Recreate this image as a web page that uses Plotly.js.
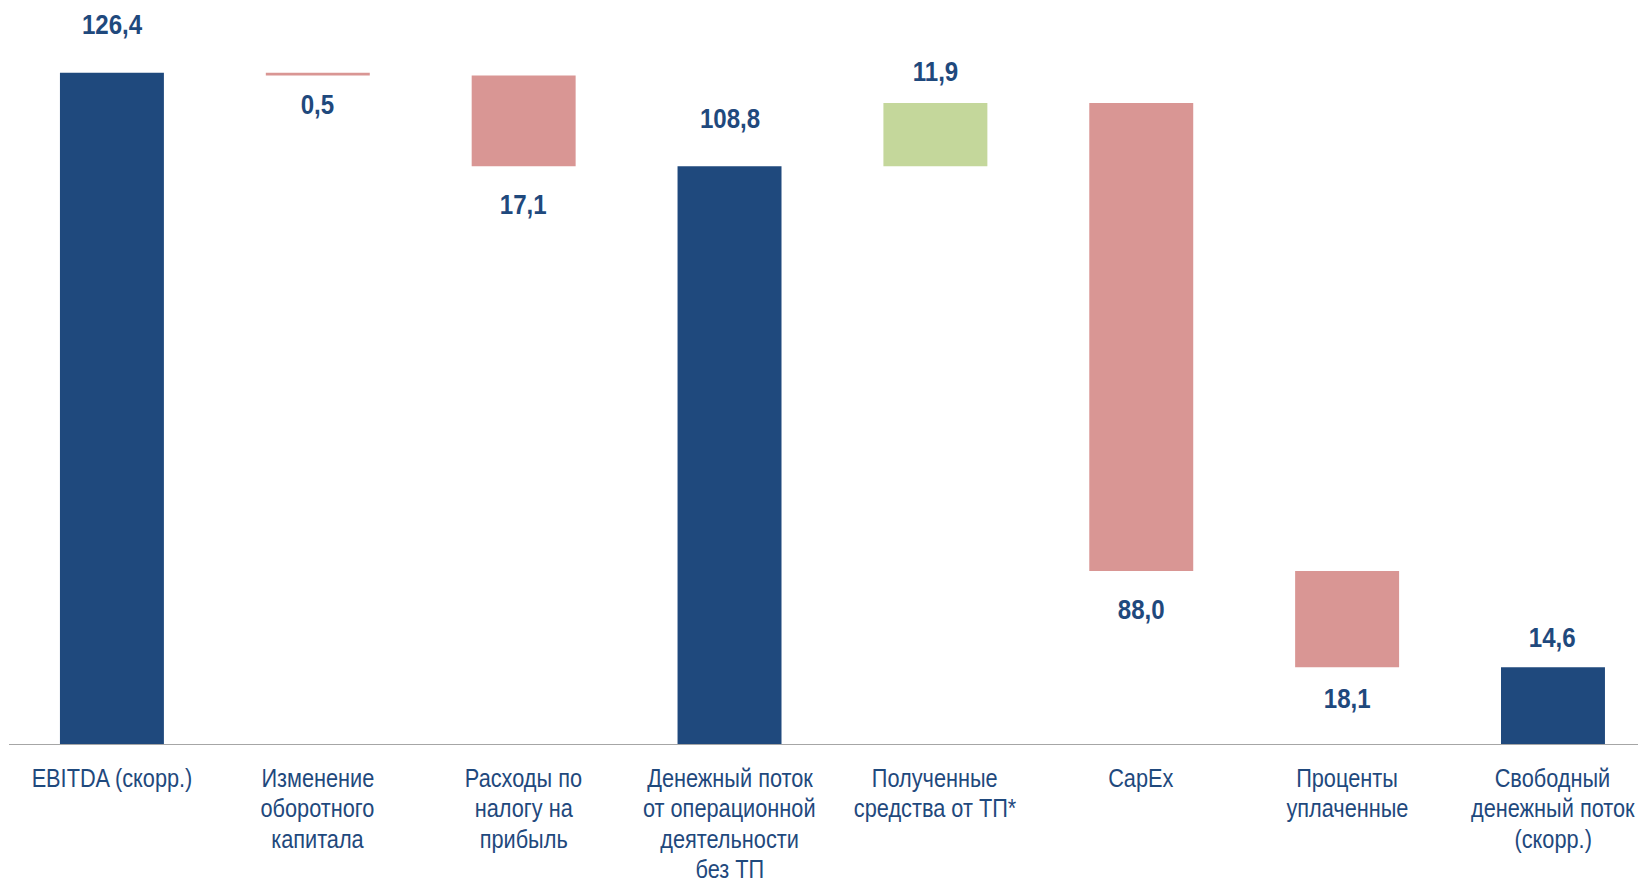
<!DOCTYPE html>
<html>
<head>
<meta charset="utf-8">
<script src="https://cdn.plot.ly/plotly-3.0.1.min.js"></script>
<style>
html,body{margin:0;padding:0;background:#fff;}
#chart{width:1638px;height:881px;}
</style>
</head>
<body>
<div id="chart"></div>
<script>
// ---- data ----
const categories = [
  "EBITDA (скорр.)",
  "Изменение<br>оборотного<br>капитала",
  "Расходы по<br>налогу на<br>прибыль",
  "Денежный поток<br>от операционной<br>деятельности<br>без ТП",
  "Полученные<br>средства от ТП*",
  "CapEx",
  "Проценты<br>уплаченные",
  "Свободный<br>денежный поток<br>(скорр.)"
];
const measures = ["absolute", "relative", "relative", "total", "relative", "relative", "relative", "total"];
const values = [126.4, -0.5, -17.1, 108.8, 11.9, -88.0, -18.1, 14.6];

// ---- style / layout ----
const BLUE = "#1F497D";
const RED = "#D99694";
const GREEN = "#C4D79B";
const labelShift = [48, 29, 38, 48, 32, 38, 31, 30];
const FONT = "'Liberation Sans', Arial, sans-serif";
const NARROW_CAT = 0.82;   // horizontal squeeze to mimic a narrow face
const NARROW_VAL = 0.86;
const catFirstLine = 33;   // px below axis to first label line centre
const catLineStep = 30.3;  // px between label lines

const trace = {
  type: "waterfall",
  x: categories,
  y: values.map((v, i) => measures[i] === "total" ? 0 : v),
  measure: measures,
  totals: {marker: {color: BLUE, line: {width: 0}}},
  increasing: {marker: {color: GREEN, line: {width: 0}}},
  decreasing: {marker: {color: RED, line: {width: 0}}},
  connector: {visible: false},
  hoverinfo: "none",
  textinfo: "none"
};

const annotations = [];
// value labels at bar ends
let run = 0;
values.forEach((v, i) => {
  let endY, above;
  if (measures[i] === "absolute") { run = v; endY = run; above = true; }
  else if (measures[i] === "total") { endY = run; above = true; }
  else { run += v; endY = run; above = v > 0; }
  annotations.push({
    x: categories[i], y: endY, xref: "x", yref: "y",
    text: "<b>" + Math.abs(v).toFixed(1).replace(".", ",") + "</b>",
    showarrow: false, yanchor: "middle",
    yshift: above ? labelShift[i] : -labelShift[i],
    font: {family: FONT, size: 28, color: BLUE},
    name: "val"
  });
});
// category labels, one annotation per line (tight line spacing)
categories.forEach((c) => {
  c.split("<br>").forEach((line, j) => {
    annotations.push({
      x: c, y: 0, xref: "x", yref: "y",
      text: line, showarrow: false, yanchor: "middle",
      yshift: -(catFirstLine + j * catLineStep),
      font: {family: FONT, size: 26.5, color: BLUE},
      name: "cat"
    });
  });
});

const layout = {
  width: 1638, height: 881,
  margin: {l: 9, r: 0, t: 27, b: 136},
  paper_bgcolor: "#fff", plot_bgcolor: "#fff",
  showlegend: false,
  waterfallgap: 0.495,
  xaxis: {
    type: "category", range: [-0.5, 7.413],
    showgrid: false, zeroline: false, showline: false,
    ticks: "", showticklabels: false, fixedrange: true
  },
  yaxis: {
    range: [0, 135], visible: false, showgrid: false, zeroline: false, fixedrange: true
  },
  shapes: [{
    type: "line", xref: "paper", yref: "y",
    x0: 0, x1: 1, y0: 0, y1: 0,
    line: {color: "#A6A6A6", width: 2}
  }],
  annotations: annotations
};

Plotly.newPlot("chart", [trace], layout, {displayModeBar: false, staticPlot: true}).then(function (gd) {
  gd.querySelectorAll("text.annotation-text").forEach(function (el) {
    var isVal = el.querySelector("tspan") && /\d,\d/.test(el.textContent) && el.textContent.length <= 6;
    var k = isVal ? NARROW_VAL : NARROW_CAT;
    var w = el.getComputedTextLength();
    el.setAttribute("textLength", (w * k).toFixed(2));
    el.setAttribute("lengthAdjust", "spacingAndGlyphs");
  });
});
</script>
</body>
</html>
